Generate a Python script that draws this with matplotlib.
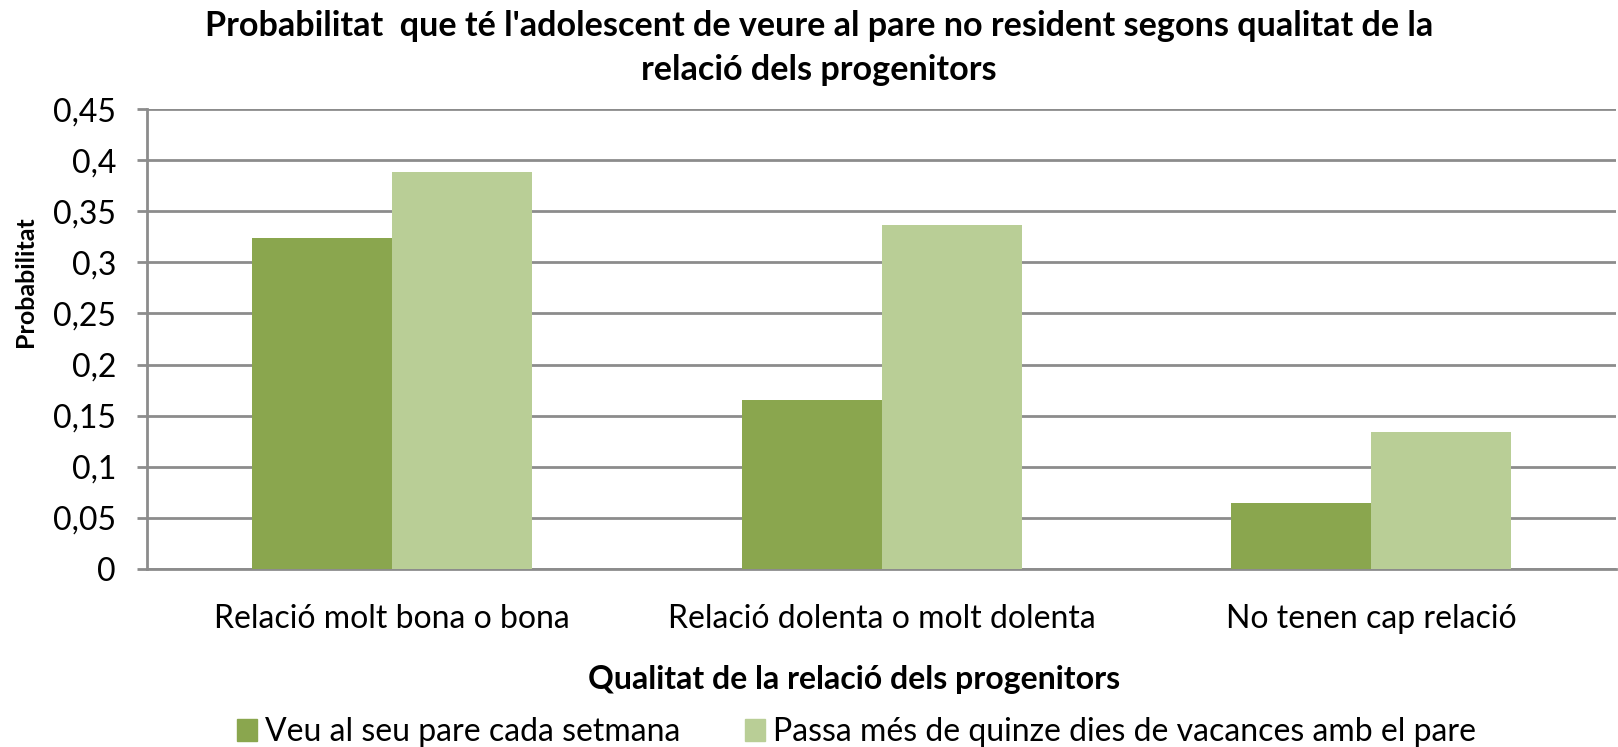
import matplotlib
matplotlib.use("Agg")
import matplotlib.pyplot as plt
import numpy as np
from matplotlib.patches import Patch

categories = ["Relació molt bona o bona", "Relació dolenta o molt dolenta", "No tenen cap relació"]
series_names = ["Veu al seu pare cada setmana", "Passa més de quinze dies de vacances amb el pare"]
veu_setmana = [0.324, 0.165, 0.065]
passa_vacances = [0.388, 0.337, 0.134]
yticks = [0, 0.05, 0.1, 0.15, 0.2, 0.25, 0.3, 0.35, 0.4, 0.45]
ytick_labels = ["0", "0,05", "0,1", "0,15", "0,2", "0,25", "0,3", "0,35", "0,4", "0,45"]

c_dark = "#8AA64E"
c_light = "#B9CE96"
grid_c = "#8C8C8C"

plt.rcParams['font.family'] = ['Lato', 'DejaVu Sans']

fig = plt.figure(figsize=(16.18, 7.47), dpi=100)
ax = fig.add_axes([0.0909, 0.2383, 0.9079, 0.6157])

x = np.arange(len(categories))
w = 0.286
ax.bar(x - w/2, veu_setmana, width=w, color=c_dark, zorder=3)
ax.bar(x + w/2, passa_vacances, width=w, color=c_light, zorder=3)

ax.set_xlim(-0.5, len(categories) - 0.5)
ax.set_ylim(0, 0.45)
ax.set_yticks(yticks)
ax.set_yticklabels(ytick_labels, fontsize=23)
ax.set_xticks(x)
ax.set_xticklabels(categories, fontsize=23)
ax.tick_params(axis='x', length=0, pad=25)
ypad = 13
ax.tick_params(axis='y', length=7, width=2, color=grid_c, pad=ypad)
ax.yaxis.grid(True, color=grid_c, linewidth=2, zorder=0)
ax.set_axisbelow(True)
for s in ['top', 'right']:
    ax.spines[s].set_visible(False)
for s in ['left', 'bottom']:
    ax.spines[s].set_color(grid_c)
    ax.spines[s].set_linewidth(2)

# align the right edge of the y tick labels with the reference (~116 px)
fig.canvas.draw()
bb = ax.get_yticklabels()[-1].get_window_extent()
ypad = max(1.0, ypad + (bb.x1 - 116) * 72 / fig.dpi)
ax.tick_params(axis='y', pad=ypad)

fig.text(25.5 / 1618, 1 - 282 / 747, "Probabilitat", rotation=90,
         ha='center', va='center', fontsize=18, fontweight='bold')
fig.text(854 / 1618, 1 - 679 / 747, "Qualitat de la relació dels progenitors",
         ha='center', va='center', fontsize=23, fontweight='bold')
fig.text(819 / 1618, 1 - 48 / 747,
         "Probabilitat  que té l'adolescent de veure al pare no resident segons qualitat de la\nrelació dels progenitors",
         ha='center', va='center', fontsize=24.6, fontweight='bold', linespacing=1.45)

h1 = [Patch(color=c_dark)]
h2 = [Patch(color=c_light)]
kw = dict(loc='center left', frameon=False, fontsize=23, handlelength=0.63, handleheight=0.68,
          handletextpad=0.25, borderpad=0, borderaxespad=0)
leg1 = fig.legend(h1, series_names[:1], bbox_to_anchor=(237 / 1618, 1 - 732 / 747), **kw)
leg2 = fig.legend(h2, series_names[1:], bbox_to_anchor=(745 / 1618, 1 - 732 / 747), **kw)

fig.savefig("out.png", dpi=100)
